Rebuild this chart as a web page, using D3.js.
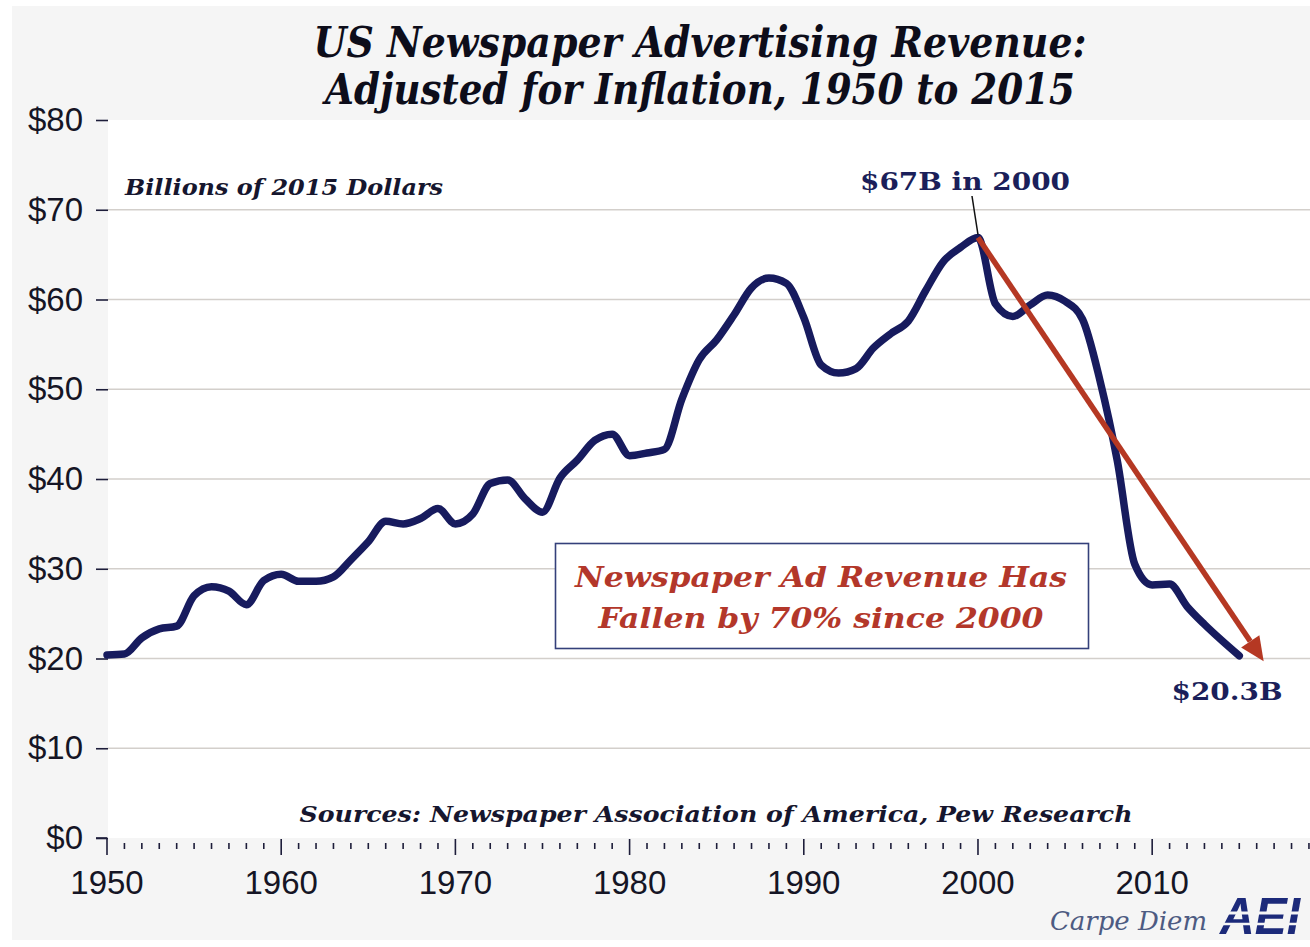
<!DOCTYPE html>
<html><head><meta charset="utf-8">
<script src="https://cdn.jsdelivr.net/npm/d3@7/dist/d3.min.js"></script>
<style>html,body{margin:0;padding:0;background:#fff;}svg{display:block;}</style>
</head><body>
<svg id="chart" width="1310" height="947"></svg>
<script>
// ---- data ----
const years = d3.range(1950, 2016);
const revenue = [
  20.4, 20.5, 22.3, 23.3, 23.6, 27.0, 28.0, 27.5, 26.0, 28.7,
  29.4, 28.6, 28.6, 29.1, 31.0, 33.0, 35.3, 35.0, 35.6, 36.7,
  35.0, 36.1, 39.5, 39.9, 37.8, 36.3, 40.1, 42.1, 44.3, 45.0,
  42.6, 42.9, 43.3, 48.9, 53.3, 55.5, 58.3, 61.3, 62.4, 61.8,
  58.0, 52.7, 51.8, 52.3, 54.6, 56.2, 57.6, 61.0, 64.2, 65.8,
  66.9, 59.5, 58.1, 59.4, 60.5, 59.8, 57.8, 51.0, 42.0, 30.5,
  28.2, 28.3, 25.8, 23.8, 22.0, 20.3
];
const yTicks = [0, 10, 20, 30, 40, 50, 60, 70, 80];
const xMajorTicks = [1950, 1960, 1970, 1980, 1990, 2000, 2010];
const xMinorTicks = d3.range(1950, 2020);
const titleLines = ["US Newspaper Advertising Revenue:", "Adjusted for Inflation, 1950 to 2015"];
const unitsLabel = "Billions of 2015 Dollars";
const peakLabel = "$67B in 2000";
const endLabel = "$20.3B";
const boxLines = ["Newspaper Ad Revenue Has", "Fallen by 70% since 2000"];
const sourceLabel = "Sources: Newspaper Association of America, Pew Research";
const arrowFrom = [2000, 66.9];
const arrowTo = [2016.4, 19.7];

// ---- layout ----
const svg = d3.select("#chart");
const x = d3.scaleLinear().domain([1950, 2019.06]).range([107, 1310]);
const y = d3.scaleLinear().domain([0, 80]).range([838, 120]);
const serif = "'DejaVu Serif', 'Liberation Serif', serif";
const sans = "'Liberation Sans', Arial, sans-serif";
const navy = "#171b5e";

svg.append("rect").attr("x", 12).attr("y", 6).attr("width", 1298).attr("height", 934).attr("fill", "#f5f5f5");
svg.append("rect").attr("x", 108).attr("y", y(80)).attr("width", 1310 - 108).attr("height", y(0) - y(80)).attr("fill", "#fff");

// gridlines
svg.append("g").selectAll("line").data(yTicks.filter(d => d > 0 && d < 80)).join("line")
  .attr("x1", 108).attr("x2", 1310).attr("y1", d => y(d)).attr("y2", d => y(d))
  .attr("stroke", "#d3cfcb").attr("stroke-width", 1.6);

// y axis
const yAxis = d3.axisLeft(y).tickValues(yTicks).tickFormat(d => "$" + d).tickSize(12).tickPadding(13);
const gy = svg.append("g").attr("transform", "translate(108,0)").call(yAxis);
gy.select(".domain").remove();
gy.selectAll(".tick line").attr("stroke", "#1d1d3a").attr("stroke-width", 1.6);
gy.selectAll(".tick text").attr("font-family", sans).attr("font-size", 33).attr("fill", "#151525");

// x axis: minor + major ticks
const gx = svg.append("g");
gx.selectAll("line.minor").data(xMinorTicks.filter(d => d % 10 !== 0)).join("line").attr("class", "minor")
  .attr("x1", d => x(d)).attr("x2", d => x(d)).attr("y1", 843).attr("y2", 849)
  .attr("stroke", "#1d1d3a").attr("stroke-width", 1.6);
gx.selectAll("line.major").data(xMajorTicks).join("line").attr("class", "major")
  .attr("x1", d => x(d)).attr("x2", d => x(d)).attr("y1", 839).attr("y2", 855)
  .attr("stroke", "#1d1d3a").attr("stroke-width", 1.6);
gx.append("line").attr("x1", 96).attr("x2", x(1950)).attr("y1", y(0)).attr("y2", y(0))
  .attr("stroke", "#1d1d3a").attr("stroke-width", 1.6);
gx.selectAll("text").data(xMajorTicks).join("text")
  .attr("x", d => x(d)).attr("y", 894).attr("text-anchor", "middle")
  .attr("font-family", sans).attr("font-size", 33).attr("fill", "#151525").text(d => d);

// series line
const line = d3.line().x((d, i) => x(years[i])).y(d => y(d)).curve(d3.curveMonotoneX);
svg.append("path").datum(revenue).attr("d", line).attr("fill", "none")
  .attr("stroke", navy).attr("stroke-width", 7.5).attr("stroke-linejoin", "round").attr("stroke-linecap", "round");

// red arrow
const ax1 = x(arrowFrom[0]), ay1 = y(arrowFrom[1]), ax2 = x(arrowTo[0]), ay2 = y(arrowTo[1]);
const ang = Math.atan2(ay2 - ay1, ax2 - ax1);
const headLen = 24, headW = 11;
const bx = ax2 - headLen * Math.cos(ang), by = ay2 - headLen * Math.sin(ang);
svg.append("line").attr("x1", ax1).attr("y1", ay1).attr("x2", bx).attr("y2", by)
  .attr("stroke", "#b53823").attr("stroke-width", 5.5);
svg.append("path").attr("fill", "#b53823").attr("d",
  `M${ax2},${ay2} L${bx + headW * Math.sin(ang)},${by - headW * Math.cos(ang)} L${bx - headW * Math.sin(ang)},${by + headW * Math.cos(ang)} Z`);

// title
svg.selectAll("text.title").data(titleLines).join("text").attr("class", "title")
  .attr("x", 700).attr("y", (d, i) => 57 + i * 47).attr("text-anchor", "middle")
  .attr("font-family", serif).attr("font-weight", "bold").attr("font-style", "italic").attr("font-size", 42)
  .attr("textLength", (d, i) => [773, 750][i]).attr("lengthAdjust", "spacingAndGlyphs")
  .attr("fill", "#0d0d1a").text(d => d);

// units label
svg.append("text").attr("x", 125).attr("y", 195).attr("font-family", serif).attr("font-weight", "bold")
  .attr("font-style", "italic").attr("font-size", 22).attr("textLength", 318).attr("lengthAdjust", "spacingAndGlyphs")
  .attr("fill", "#16162e").text(unitsLabel);

// peak label + leader
svg.append("text").attr("x", 965).attr("y", 190).attr("text-anchor", "middle").attr("font-family", serif)
  .attr("font-weight", "bold").attr("font-size", 25).attr("textLength", 210).attr("lengthAdjust", "spacingAndGlyphs")
  .attr("fill", "#1b1f5a").text(peakLabel);
svg.append("line").attr("x1", x(arrowFrom[0]) - 6).attr("y1", 196).attr("x2", x(arrowFrom[0])).attr("y2", y(arrowFrom[1]) - 3)
  .attr("stroke", "#111").attr("stroke-width", 1.5);

// end label
svg.append("text").attr("x", 1227).attr("y", 700).attr("text-anchor", "middle").attr("font-family", serif)
  .attr("font-weight", "bold").attr("font-size", 25).attr("textLength", 111).attr("lengthAdjust", "spacingAndGlyphs")
  .attr("fill", "#1b1f5a").text(endLabel);

// annotation box
svg.append("rect").attr("x", 555.5).attr("y", 543.5).attr("width", 533).attr("height", 105)
  .attr("fill", "#fff").attr("stroke", "#34407a").attr("stroke-width", 1.6);
svg.selectAll("text.box").data(boxLines).join("text").attr("class", "box")
  .attr("x", 821).attr("y", (d, i) => 587 + i * 41).attr("text-anchor", "middle")
  .attr("font-family", serif).attr("font-weight", "bold").attr("font-style", "italic").attr("font-size", 28)
  .attr("textLength", (d, i) => [492, 445][i]).attr("lengthAdjust", "spacingAndGlyphs")
  .attr("fill", "#b3372a").text(d => d);

// source
svg.append("text").attr("x", 716).attr("y", 822).attr("text-anchor", "middle").attr("font-family", serif)
  .attr("font-weight", "bold").attr("font-style", "italic").attr("font-size", 22)
  .attr("textLength", 833).attr("lengthAdjust", "spacingAndGlyphs").attr("fill", "#16162e").text(sourceLabel);

// branding
svg.append("text").attr("x", 1050).attr("y", 930).attr("font-family", serif).attr("font-style", "italic")
  .attr("font-size", 26).attr("textLength", 157).attr("lengthAdjust", "spacingAndGlyphs")
  .attr("fill", "#4d5b82").text("Carpe Diem");
const logo = svg.append("g");
logo.append("text").attr("x", 1220).attr("y", 934).attr("font-family", sans).attr("font-weight", "bold")
  .attr("font-style", "italic").attr("font-size", 52).attr("textLength", 80).attr("lengthAdjust", "spacingAndGlyphs")
  .attr("fill", "#1c2a7a").text("AEI");
logo.append("line").attr("x1", 1212).attr("x2", 1308).attr("y1", 913).attr("y2", 913).attr("stroke", "#f5f5f5").attr("stroke-width", 3);
logo.append("line").attr("x1", 1212).attr("x2", 1308).attr("y1", 924).attr("y2", 924).attr("stroke", "#f5f5f5").attr("stroke-width", 2.5);
</script>
</body></html>
